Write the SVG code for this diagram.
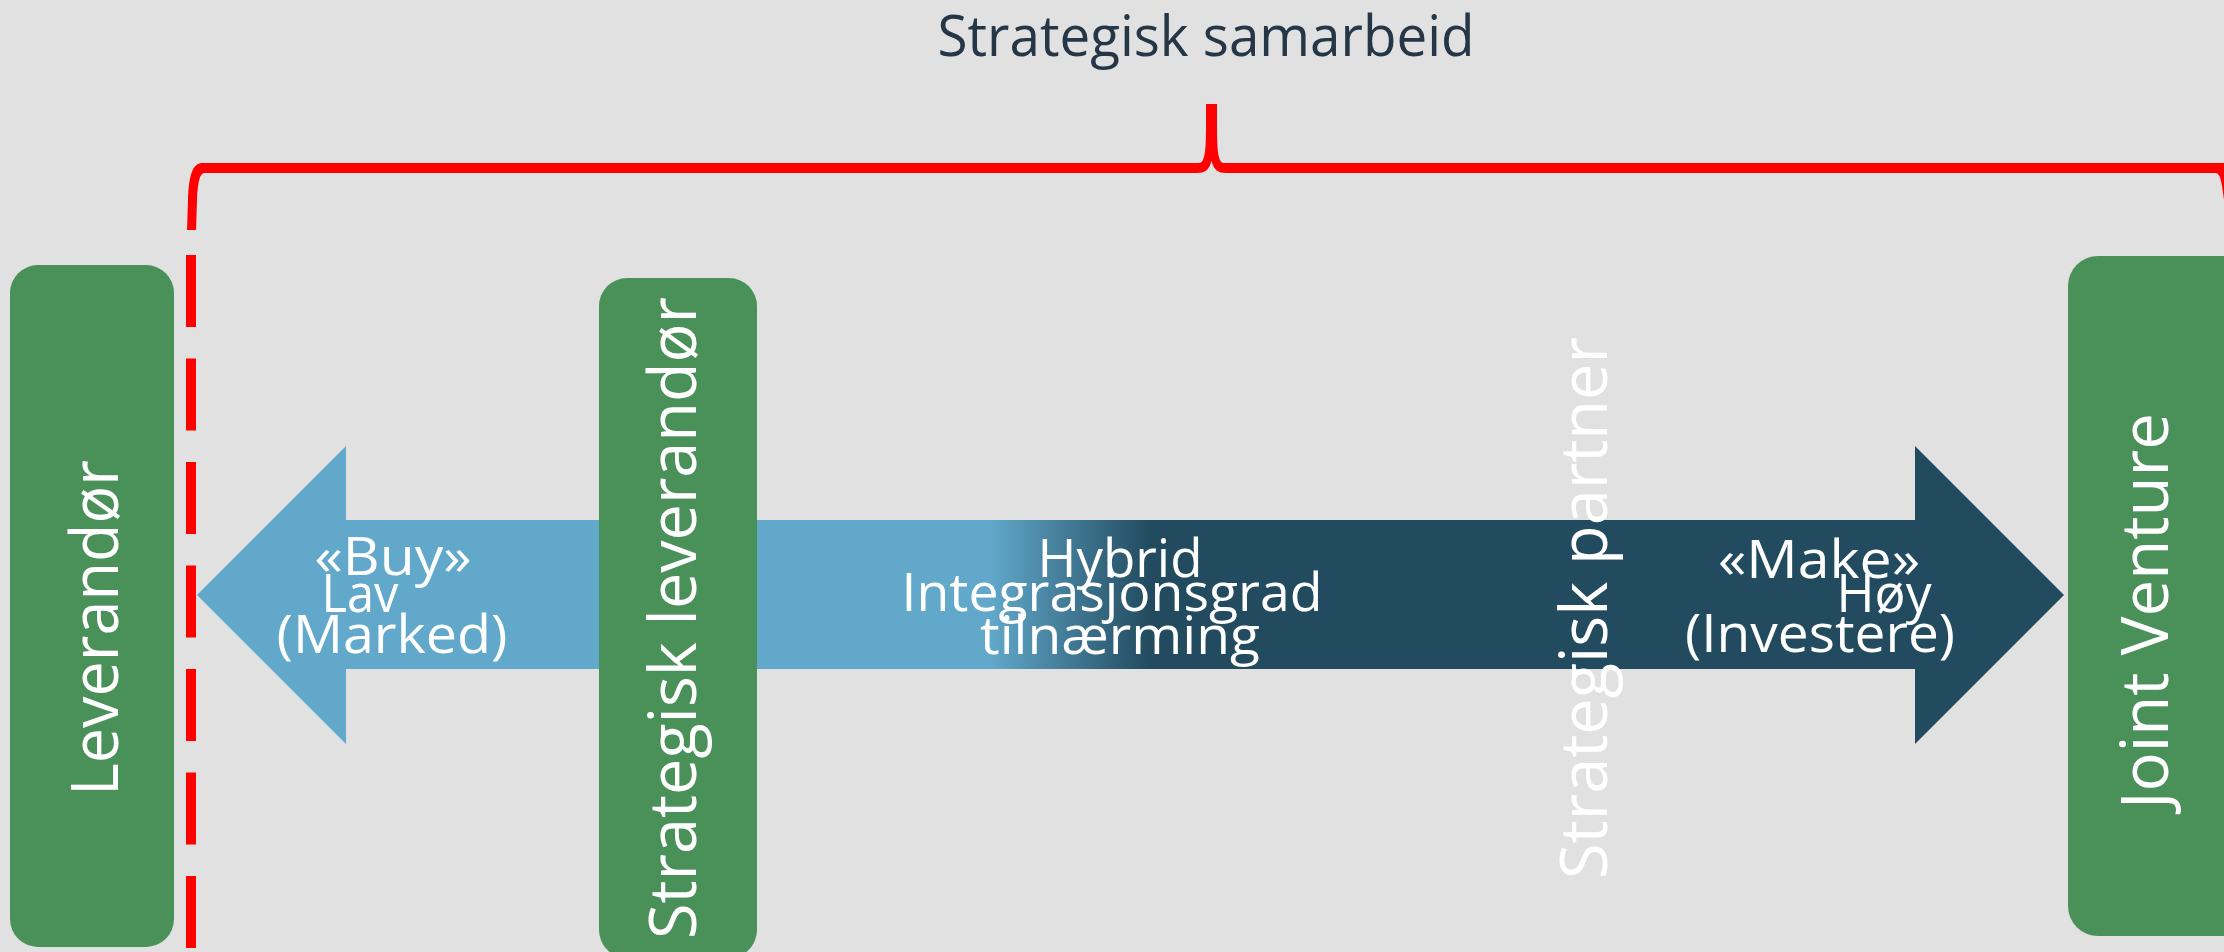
<svg xmlns="http://www.w3.org/2000/svg" width="2224" height="952" viewBox="0 0 2224 952">
<style>
.box{fill:#4A9159}
.vt{font-family:"Open Sans","Noto Sans","Liberation Sans",sans-serif;font-size:65px;fill:#FFFFFF;text-anchor:middle}
.ht{font-family:"Open Sans","Noto Sans","Liberation Sans",sans-serif;font-size:53px;fill:#FFFFFF;text-anchor:middle}
.title{font-family:"Open Sans","Noto Sans","Liberation Sans",sans-serif;font-size:56px;fill:#253746;text-anchor:middle}
.brace{fill:#FF0000}
.dash{fill:none;stroke:#FF0000;stroke-width:10;stroke-dasharray:72 31.5}
</style>
<defs>
<linearGradient id="arrowGrad" gradientUnits="userSpaceOnUse" x1="990" y1="0" x2="1150" y2="0">
<stop offset="0" stop-color="#61A8CA"/>
<stop offset="1" stop-color="#224B5F"/>
</linearGradient>
</defs>
<rect width="2224" height="952" fill="#E1E1E1"/>
<g id="title">
<text class="title" x="1206" y="56" textLength="537" lengthAdjust="spacingAndGlyphs">Strategisk samarbeid</text>
</g>
<g id="arrow">
<path d="M197,595 L346,446 L346,520 L1915,520 L1915,446 L2064,595 L1915,744 L1915,669 L346,669 L346,744 Z" fill="url(#arrowGrad)"/>
<text class="ht" x="393" y="575" textLength="157" lengthAdjust="spacingAndGlyphs">«Buy»</text>
<text class="ht" x="360" y="612" textLength="77" lengthAdjust="spacingAndGlyphs">Lav</text>
<text class="ht" x="392" y="653" textLength="231" lengthAdjust="spacingAndGlyphs">(Marked)</text>
<text class="ht" x="1120" y="577" textLength="165" lengthAdjust="spacingAndGlyphs">Hybrid</text>
<text class="ht" x="1112" y="611" textLength="421" lengthAdjust="spacingAndGlyphs">Integrasjonsgrad</text>
<text class="ht" x="1120" y="654" textLength="280" lengthAdjust="spacingAndGlyphs">tilnærming</text>
<text class="ht" x="1819" y="578" textLength="202" lengthAdjust="spacingAndGlyphs">«Make»</text>
<text class="ht" x="1884" y="612" textLength="95" lengthAdjust="spacingAndGlyphs">Høy</text>
<text class="ht" x="1820" y="652" textLength="270" lengthAdjust="spacingAndGlyphs">(Investere)</text>
</g>
<g id="leverandor">
<rect class="box" x="10" y="265" width="164" height="682" rx="28" ry="28"/>
<text class="vt" transform="translate(118,628) rotate(-90)" textLength="336" lengthAdjust="spacingAndGlyphs">Leverandør</text>
</g>
<g id="strategisk-leverandor">
<rect class="box" x="599" y="278" width="158" height="680" rx="28" ry="28"/>
<text class="vt" transform="translate(696,618) rotate(-90)" textLength="642" lengthAdjust="spacingAndGlyphs">Strategisk leverandør</text>
</g>
<g id="strategisk-partner">
<text class="vt" transform="translate(1607,608) rotate(-90)" textLength="542" lengthAdjust="spacingAndGlyphs">Strategisk partner</text>
</g>
<g id="joint-venture">
<rect class="box" x="2068" y="256" width="200" height="680" rx="30" ry="30"/>
<text class="vt" transform="translate(2168,611) rotate(-90)" textLength="396" lengthAdjust="spacingAndGlyphs">Joint Venture</text>
</g>
<g id="connectors">
<path class="brace" d="M187,230 L188,200 C189,173 193,163 203,163 L1199,163 C1205,163 1206,150 1206,125 L1206,104 L1217,104 L1217,125 C1217,150 1218,163 1224,163 L2224,163 L2224,200 C2222,185 2221,174 2216,173 L1226,173 C1218,173 1214,170 1211.5,161 C1209,170 1205,173 1197,173 L205,173 C200,173 198,180 197,200 L196,230 Z"/>
<line class="dash" x1="191" y1="255" x2="191" y2="952"/>
</g>
</svg>
